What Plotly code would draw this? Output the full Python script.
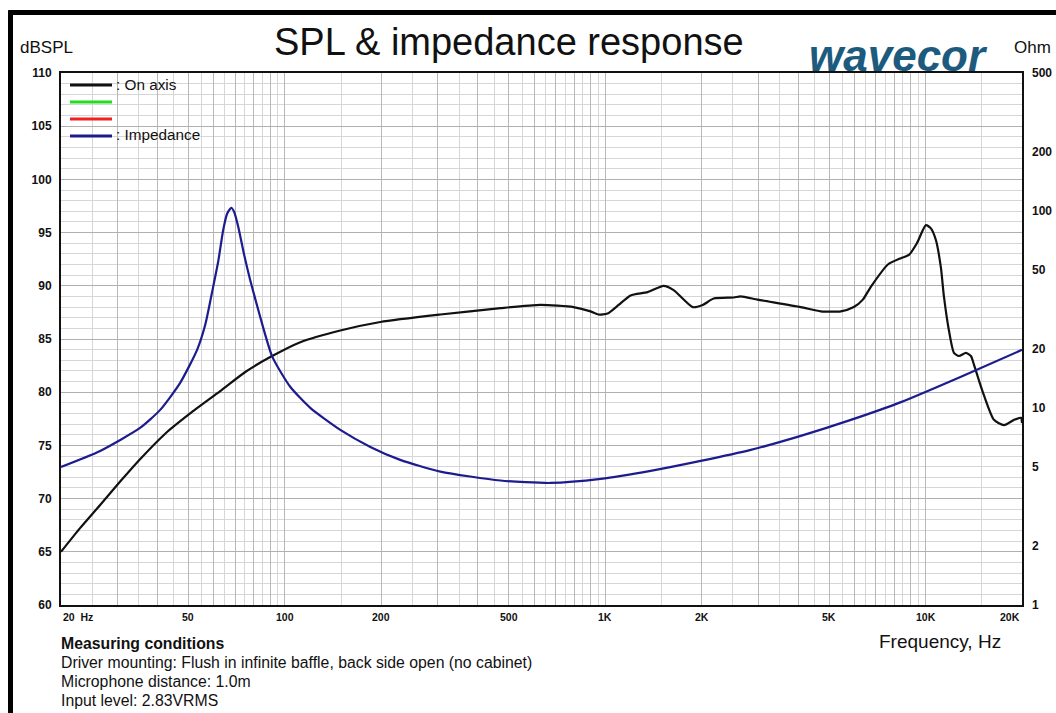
import plotly.graph_objects as go
import numpy as np

# ---- data ----
spl_freq = [20.0, 22.9, 26.5, 30.6, 35.3, 42.3, 50.6, 62.8, 75.2, 90.0, 111.7, 148.9, 198.6,
            305.8, 470.8, 627.8, 796, 900, 953, 1017, 1101, 1200, 1356, 1521, 1635, 1875,
            2014, 2181, 2518, 2648, 2992, 4078, 4708, 5438, 5971, 6370, 6747, 7628, 8377,
            8872, 9396, 10024, 10390, 10770, 11166, 11410, 11828, 12262, 12711, 13366,
            13856, 14158, 14680, 15218, 16352, 17572, 18882, 19856, 20000]
spl_db = [65.0, 67.2, 69.4, 71.6, 73.7, 76.1, 78.0, 80.1, 81.9, 83.3, 84.7, 85.8, 86.6,
          87.3, 87.9, 88.2, 88.0, 87.6, 87.3, 87.4, 88.2, 89.1, 89.4, 90.0, 89.6, 88.0,
          88.2, 88.8, 88.9, 89.0, 88.7, 88.0, 87.6, 87.6, 88.0, 88.7, 89.9, 92.0, 92.6,
          92.9, 94.0, 95.7, 95.4, 94.3, 91.7, 89.0, 85.8, 83.7, 83.4, 83.7,
          83.4, 82.6, 81.1, 79.7, 77.4, 76.9, 77.4, 77.6, 77.1]

imp_freq = [20.0, 26.5, 35.3, 40.8, 47.1, 53.2, 56.4, 59.7, 61.9, 64.2, 66.0, 68.0, 69.4,
            71.5, 74.6, 77.9, 83.7, 91.3, 103.9, 120.0, 148.9, 184.8, 229.0, 305.8, 470.8,
            674.8, 967, 1386, 1986, 2846, 4078, 5844, 8377, 12900, 20000]
imp_ohm = [5.02, 6.05, 7.91, 9.77, 13.4, 19.7, 26.4, 41.1, 55.1, 80.1, 96.6, 103.6, 98.8,
           83.0, 59.8, 44.6, 29.0, 18.2, 12.8, 10.0, 7.73, 6.34, 5.45, 4.75, 4.28,
           4.16, 4.36, 4.79, 5.38, 6.12, 7.21, 8.69, 10.7, 14.4, 19.7]

x_tick_vals = [20, 50, 100, 200, 500, 1000, 2000, 5000, 10000, 20000]
x_tick_text = ["20  Hz", "50", "100", "200", "500", "1K", "2K", "5K", "10K", "20K"]
y_tick_vals = [60, 65, 70, 75, 80, 85, 90, 95, 100, 105, 110]
y2_tick_vals = [1, 2, 5, 10, 20, 50, 100, 200, 500]

x_major_grid = list(range(20, 101, 10)) + list(range(200, 1001, 100)) + \
    list(range(2000, 10001, 1000)) + [20000]
x_minor_grid = list(range(25, 100, 10)) + list(range(150, 1000, 100)) + \
    list(range(1500, 10000, 1000)) + [15000]

FONT = "Liberation Sans, Arial, sans-serif"

fig = go.Figure()
fig.add_trace(go.Scatter(x=spl_freq, y=spl_db, mode="lines", name="On axis",
                         line=dict(color="#111111", width=2.2, shape="spline", smoothing=0.6),
                         showlegend=False))
fig.add_trace(go.Scatter(x=imp_freq, y=imp_ohm, mode="lines", name="Impedance", yaxis="y2",
                         line=dict(color="#1c1c8f", width=2.2, shape="spline", smoothing=0.6),
                         showlegend=False))

fig.update_layout(
    width=1056, height=713,
    margin=dict(l=61, r=34, t=73, b=108),
    paper_bgcolor="white", plot_bgcolor="white",
    font=dict(family=FONT, color="#111111"),
    xaxis=dict(type="log", range=[np.log10(20), np.log10(20000)], automargin=False,
               tickmode="array", tickvals=x_major_grid, showticklabels=False, ticks="",
               showgrid=True, gridcolor="#b8b8b8", gridwidth=1,
               minor=dict(tickmode="array", tickvals=x_minor_grid, showgrid=True,
                          gridcolor="#d6d6d6", gridwidth=1, ticks=""),
               showline=True, linecolor="#111111", linewidth=2, mirror=True, zeroline=False),
    yaxis=dict(range=[60, 110], tickmode="array", tickvals=y_tick_vals, automargin=False,
               tickfont=dict(family=FONT, size=12, color="#111111", weight="bold"),
               ticks="", ticklabelstandoff=5,
               showgrid=True, gridcolor="#b0b0b0", gridwidth=1,
               minor=dict(dtick=1, showgrid=True, gridcolor="#d6d6d6", gridwidth=1, ticks=""),
               showline=True, linecolor="#111111", linewidth=2, mirror=True, zeroline=False),
    yaxis2=dict(type="log", range=[0, np.log10(500)], overlaying="y", side="right",
                automargin=False,
                tickmode="array", tickvals=y2_tick_vals,
                ticktext=[str(v) for v in y2_tick_vals],
                tickfont=dict(family=FONT, size=12, color="#111111", weight="bold"),
                ticks="", ticklabelstandoff=9, showgrid=False, zeroline=False,
                showline=False),
)

# x tick labels
for v, t in zip(x_tick_vals, x_tick_text):
    anchor = "center"
    if v == 20:
        anchor = "left"
    elif v == 20000:
        anchor = "right"
    fig.add_annotation(x=np.log10(v), y=-0.0226, xref="x", yref="paper", text=t,
                       showarrow=False, xanchor=anchor, yanchor="middle",
                       font=dict(family=FONT, size=10.5, color="#111111", weight="bold"))


def px2paper(px, py):
    return (px - 61) / 961, (605 - py) / 532


def add_text(px, py, text, size, anchor="left", bold=False, italic=False, color="#111111"):
    x, y = px2paper(px, py)
    fig.add_annotation(x=x, y=y, xref="paper", yref="paper", text=text, showarrow=False,
                       xanchor=anchor, yanchor="middle",
                       font=dict(family=FONT, size=size, color=color,
                                 weight="bold" if bold else "normal",
                                 style="italic" if italic else "normal"))


add_text(509, 42, "SPL &amp; impedance response", 38, anchor="center")
add_text(18, 48, "dBSPL", 17)
add_text(1012, 48, "Ohm", 17)
add_text(898, 55, "wavecor", 44, anchor="center", bold=True, italic=True, color="#1c5b7d")
add_text(877, 641, "Frequency, Hz", 19)
add_text(59, 643, "Measuring conditions", 15.8, bold=True)
add_text(59, 662, "Driver mounting: Flush in infinite baffle, back side open (no cabinet)", 15.8)
add_text(59, 681, "Microphone distance: 1.0m", 15.8)
add_text(59, 700, "Input level: 2.83VRMS", 15.8)

# legend (drawn manually)
legend_items = [("#111111", ": On axis"), ("#22dd22", ""), ("#ee2222", ""), ("#1c1c8f", ": Impedance")]
for i, (col, lab) in enumerate(legend_items):
    py = 85 + 17 * i
    x0, y0 = px2paper(70, py)
    x1, _ = px2paper(112, py)
    fig.add_shape(type="line", xref="paper", yref="paper", x0=x0, x1=x1, y0=y0, y1=y0,
                  line=dict(color=col, width=3))
    if lab:
        add_text(114, py - 1, lab, 15.3)

# outer thick frame (left and top)
xl, yt = px2paper(10.5, 12.5)
xr, yb = px2paper(1080, 740)
fig.add_shape(type="line", xref="paper", yref="paper", x0=xl, x1=xl, y0=yt + 0.004, y1=yb,
              line=dict(color="#000000", width=5))
fig.add_shape(type="line", xref="paper", yref="paper", x0=xl - 0.002, x1=xr, y0=yt, y1=yt,
              line=dict(color="#000000", width=5))

fig.write_html("out.html", config={"displayModeBar": False},
               post_script="document.body.style.margin='0';document.body.style.overflow='hidden';")
